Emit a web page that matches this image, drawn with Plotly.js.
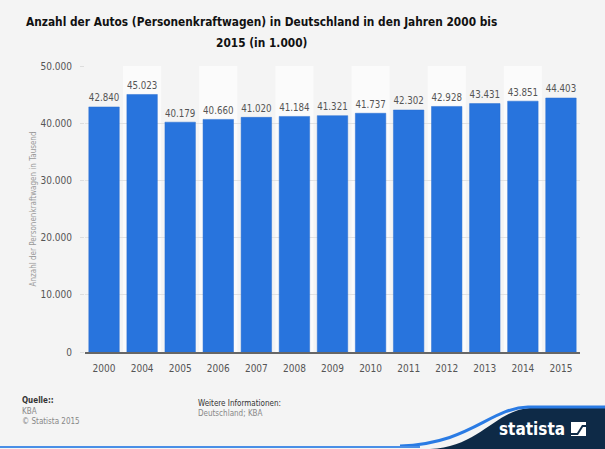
<!DOCTYPE html>
<html>
<head>
<meta charset="utf-8">
<script src="https://cdn.plot.ly/plotly-3.0.1.min.js"></script>
<style>
html,body{margin:0;padding:0;background:#f4f4f4;}
#chart{width:605px;height:449px;}
</style>
</head>
<body>
<div id="chart"></div>
<script>
const years = ['2000','2004','2005','2006','2007','2008','2009','2010','2011','2012','2013','2014','2015'];
const values = [42840, 45023, 40179, 40660, 41020, 41184, 41321, 41737, 42302, 42928, 43431, 43851, 44403];
const valueLabels = ['42.840','45.023','40.179','40.660','41.020','41.184','41.321','41.737','42.302','42.928','43.431','43.851','44.403'];
const yTicks = [0, 10000, 20000, 30000, 40000, 50000];
const yTickLabels = ['0','10.000','20.000','30.000','40.000','50.000'];
const titleLines = ['Anzahl der Autos (Personenkraftwagen) in Deutschland in den Jahren 2000 bis', '2015 (in 1.000)'];

const L = 85, R = 580, T = 66, B = 352, W = 605, H = 449;
const px = x => (x - L) / (R - L);
const py = y => (B - y) / (B - T);

const shapes = [];
// alternating column bands
years.forEach((yr, i) => {
  if (i % 2 === 1) {
    shapes.push({type:'rect', xref:'x', yref:'paper', x0:i-0.5, x1:i+0.5, y0:0, y1:1,
      fillcolor:'#fbfbfb', line:{width:0}, layer:'below'});
  }
});
// statista footer logo
shapes.push({type:'path', xref:'paper', yref:'paper',
  path:`M ${px(430)} ${py(449)} C ${px(480)} ${py(447)}, ${px(495)} ${py(410)}, ${px(530)} ${py(408)} L ${px(605)} ${py(408)} L ${px(605)} ${py(449)} Z`,
  fillcolor:'#0e2a47', line:{width:0}});
shapes.push({type:'path', xref:'paper', yref:'paper',
  path:`M ${px(400)} ${py(446)} C ${px(470)} ${py(444)}, ${px(490)} ${py(408)}, ${px(528)} ${py(407)} L ${px(605)} ${py(407)}`,
  line:{color:'#2a7be4', width:3}});
shapes.push({type:'line', xref:'paper', yref:'paper', x0:px(0), x1:px(420), y0:py(447), y1:py(447),
  line:{color:'#4a8ee6', width:2}});
// logo square
shapes.push({type:'rect', xref:'paper', yref:'paper', x0:px(571), x1:px(586), y0:py(436), y1:py(422),
  fillcolor:'#ffffff', line:{width:0}});
shapes.push({type:'path', xref:'paper', yref:'paper',
  path:`M ${px(571)} ${py(433)} L ${px(577)} ${py(433)} L ${px(582)} ${py(425)} L ${px(586)} ${py(425)} L ${px(586)} ${py(427)} L ${px(583)} ${py(427)} L ${px(578)} ${py(435)} L ${px(571)} ${py(435)} Z`,
  fillcolor:'#0e2a47', line:{width:0}});

const titleFont = {size:11.8, color:'#111', family:'DejaVu Sans Condensed, sans-serif'};
const annotations = [
  {text:'<b>Quelle::</b>', x:px(20), y:py(400), xref:'paper', yref:'paper', xanchor:'left', yanchor:'middle', showarrow:false, font:{size:8, color:'#333'}},
  {text:'KBA', x:px(20), y:py(411), xref:'paper', yref:'paper', xanchor:'left', yanchor:'middle', showarrow:false, font:{size:8, color:'#888'}},
  {text:'© Statista 2015', x:px(20), y:py(421), xref:'paper', yref:'paper', xanchor:'left', yanchor:'middle', showarrow:false, font:{size:8, color:'#888'}},
  {text:'Weitere Informationen:', x:px(196), y:py(403), xref:'paper', yref:'paper', xanchor:'left', yanchor:'middle', showarrow:false, font:{size:8, color:'#333'}},
  {text:'Deutschland; KBA', x:px(196), y:py(413), xref:'paper', yref:'paper', xanchor:'left', yanchor:'middle', showarrow:false, font:{size:8, color:'#888'}},
  {text:'<b>statista</b>', x:px(567), y:py(429), xref:'paper', yref:'paper', xanchor:'right', yanchor:'middle', showarrow:false, font:{size:17, color:'#ffffff', family:'DejaVu Sans Condensed, sans-serif'}},
  {text:'<b>' + titleLines[0] + '</b>', x:px(261), y:py(22), xref:'paper', yref:'paper', xanchor:'center', yanchor:'middle', showarrow:false, font:titleFont},
  {text:'<b>' + titleLines[1] + '</b>', x:px(261), y:py(43), xref:'paper', yref:'paper', xanchor:'center', yanchor:'middle', showarrow:false, font:titleFont}
];

const trace = {
  type:'bar', x:years, y:values, text:valueLabels, textposition:'outside', cliponaxis:false,
  textfont:{size:11, color:'#555', family:'DejaVu Sans Condensed, sans-serif'},
  marker:{color:'#2874dd', line:{color:'#2a6fd0', width:0.5}},
  hoverinfo:'none'
};

const layout = {
  width:W, height:H,
  paper_bgcolor:'#f4f4f4', plot_bgcolor:'#f4f4f4',
  margin:{l:L, r:W-R, t:T, b:H-B, pad:0},
  bargap:0.2,
  showlegend:false,
  font:{family:'DejaVu Sans Condensed, sans-serif', color:'#555'},
  xaxis:{type:'category', showline:true, linecolor:'#666', linewidth:2, ticks:'', showgrid:false,
    tickfont:{size:10, color:'#555'}, ticklabelstandoff:6},
  yaxis:{range:[0,50000], tickvals:yTicks, ticktext:yTickLabels, showgrid:true, gridcolor:'#e2e2e2', gridwidth:1,
    zeroline:false, showline:false, ticks:'outside', ticklen:4, tickcolor:'#ddd',
    tickfont:{size:10, color:'#555'}, ticklabelstandoff:6,
    title:{text:'Anzahl der Personenkraftwagen in Tausend', font:{size:8, color:'#999'}, standoff:2}},
  shapes:shapes,
  annotations:annotations
};

Plotly.newPlot('chart', [trace], layout, {displayModeBar:false, staticPlot:true});
</script>
</body>
</html>
